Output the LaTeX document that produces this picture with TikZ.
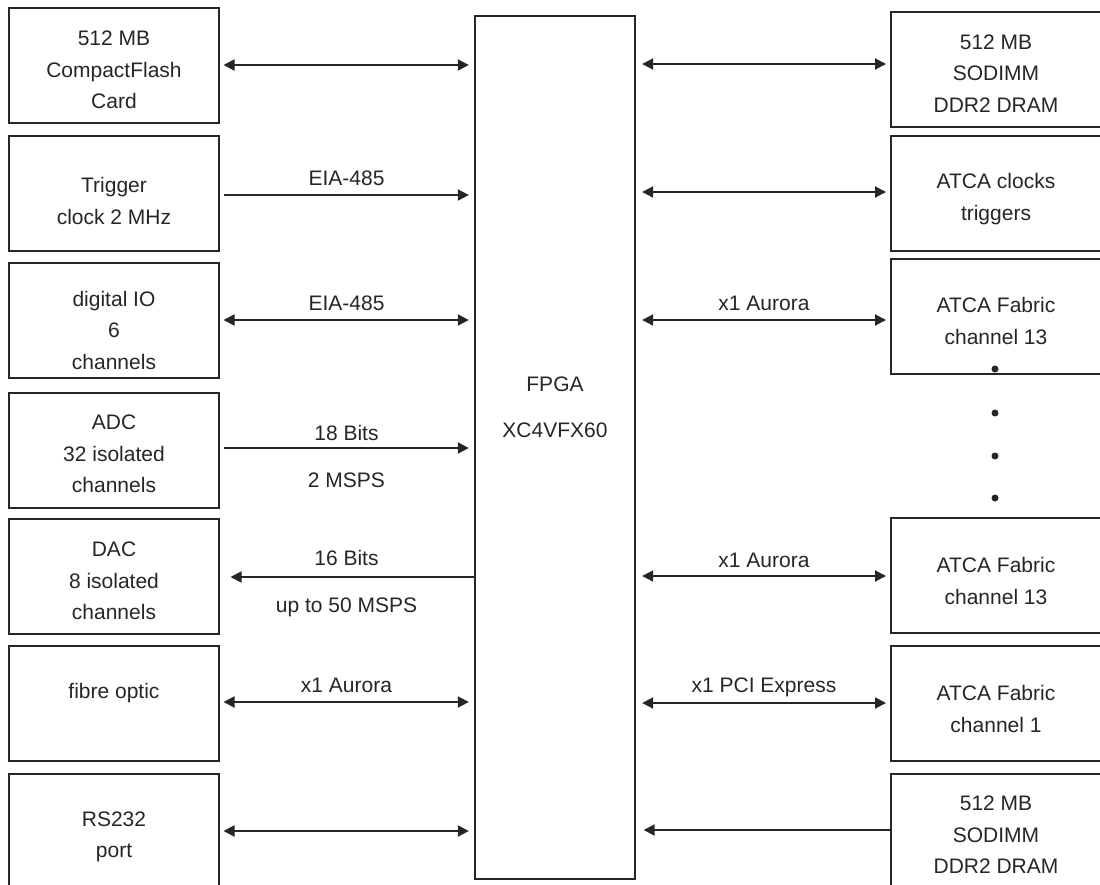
\documentclass[tikz,border=0pt]{standalone}
\usepackage{fontspec}
\setmainfont{Liberation Sans}
\usetikzlibrary{arrows.meta}
\begin{document}
\begin{tikzpicture}[x=1pt,y=-1pt,
  box/.style={draw=black!85,line width=2pt,minimum width=210pt,minimum height=115pt,inner sep=0pt},
  txt/.style={align=center,font=\fontsize{21}{31.5}\selectfont,text=black!85,inner sep=0pt},
  lab/.style={font=\fontsize{21}{24}\selectfont,text=black!85,inner sep=0pt},
  conn/.style={line width=1.9pt,draw=black!85},
  tip/.style={-{Triangle[length=11pt,width=11pt]}},
  both/.style={{Triangle[length=11pt,width=11pt]}-{Triangle[length=11pt,width=11pt]}},
  dot/.style={circle,fill=black!85,inner sep=0pt,minimum size=7pt}]
\useasboundingbox (0,0) rectangle (1100,884);
\fill[white] (0,0) rectangle (1100,884);
% FPGA
\node[draw=black!85,line width=2.3pt,minimum width=160pt,minimum height=863pt,inner sep=0pt] (fpga) at (555,447.5) {};
\node[txt] (fpgat) at (555,384) {FPGA};
\node[txt] (fpgat2) at (555,430) {XC4VFX60};
% left boxes
\node[box] (l1) at (114,65.5) {};
\node[box] (l2) at (114,193) {};
\node[box] (l3) at (114,320.5) {};
\node[box] (l4) at (114,450) {};
\node[box] (l5) at (114,576.5) {};
\node[box] (l6) at (114,703.5) {};
\node[box] (l7) at (114,831.5) {};
\node[txt] (l1t) at (114,70) {512 MB\\CompactFlash\\Card};
\node[txt] (l2t) at (114,201) {Trigger\\clock 2 MHz};
\node[txt] (l3t) at (114,330) {digital IO\\6\\channels};
\node[txt] (l4t) at (114,454) {ADC\\32 isolated\\channels};
\node[txt] (l5t) at (114,581) {DAC\\8 isolated\\channels};
\node[txt] (l6t) at (114,693) {fibre optic};
\node[txt] (l7t) at (114,837) {RS232\\port};
% right boxes
\node[box] (r1) at (996,69) {};
\node[box] (r2) at (996,193.5) {};
\node[box] (r3) at (996,316.5) {};
\node[box] (r4) at (996,575.5) {};
\node[box] (r5) at (996,703) {};
\node[box] (r6) at (996,831.5) {};
\node[txt] (r1t) at (996,73.5) {512 MB\\SODIMM\\DDR2 DRAM};
\node[txt] (r2t) at (996,199) {ATCA clocks\\triggers};
\node[txt] (r3t) at (996,321) {ATCA Fabric\\channel 13};
\node[txt] (r4t) at (996,581) {ATCA Fabric\\channel 13};
\node[txt] (r5t) at (996,709) {ATCA Fabric\\channel 1};
\node[txt] (r6t) at (996,835) {512 MB\\SODIMM\\DDR2 DRAM};
% dots
\node[dot] (d1) at (995,369) {};
\node[dot] (d2) at (995,413) {};
\node[dot] (d3) at (995,456) {};
\node[dot] (d4) at (995,498) {};
% left connectors
\draw[conn,both,shorten <=3.5pt,shorten >=5pt] ([yshift=0.5pt]l1.east) -- ([yshift=0.5pt]l1.east -| fpga.west);
\draw[conn,tip,shorten <=3.5pt,shorten >=5pt] ([yshift=-2pt]l2.east) -- ([yshift=-2pt]l2.east -| fpga.west);
\draw[conn,both,shorten <=3.5pt,shorten >=5pt] ([yshift=0.5pt]l3.east) -- ([yshift=0.5pt]l3.east -| fpga.west);
\draw[conn,tip,shorten <=3.5pt,shorten >=5pt] ([yshift=2pt]l4.east) -- ([yshift=2pt]l4.east -| fpga.west);
\draw[conn,tip,shorten >=10.5pt] ([yshift=-0.5pt]l5.east -| fpga.west) -- ([yshift=-0.5pt]l5.east);
\draw[conn,both,shorten <=3.5pt,shorten >=5pt] ([yshift=1.5pt]l6.east) -- ([yshift=1.5pt]l6.east -| fpga.west);
\draw[conn,both,shorten <=3.5pt,shorten >=5pt] ([yshift=0.5pt]l7.east) -- ([yshift=0.5pt]l7.east -| fpga.west);
% right connectors
\draw[conn,both,shorten <=6pt,shorten >=4pt] ([yshift=5pt]r1.west -| fpga.east) -- ([yshift=5pt]r1.west);
\draw[conn,both,shorten <=6pt,shorten >=4pt] ([yshift=1.5pt]r2.west -| fpga.east) -- ([yshift=1.5pt]r2.west);
\draw[conn,both,shorten <=6pt,shorten >=4pt] ([yshift=-3.5pt]r3.west -| fpga.east) -- ([yshift=-3.5pt]r3.west);
\draw[conn,both,shorten <=6pt,shorten >=4pt] ([yshift=-0.5pt]r4.west -| fpga.east) -- ([yshift=-0.5pt]r4.west);
\draw[conn,both,shorten <=6pt,shorten >=4pt] (r5.west -| fpga.east) -- (r5.west);
\draw[conn,tip,shorten >=7.5pt] ([yshift=1.5pt]r6.west) -- ([yshift=1.5pt]r6.west -| fpga.east);
% labels
\node[lab] (a2) at (346.5,178) {EIA-485};
\node[lab] (a3) at (346.5,303) {EIA-485};
\node[lab] (a4) at (346.5,433) {18 Bits};
\node[lab] (a4b) at (346.5,480) {2 MSPS};
\node[lab] (a5) at (346.5,558) {16 Bits};
\node[lab] (a5b) at (346.5,607) {up to 50 MSPS};
\node[lab] (a6) at (346.5,685) {x1 Aurora};
\node[lab] (b3) at (764,303) {x1 Aurora};
\node[lab] (b4) at (764,560) {x1 Aurora};
\node[lab] (b5) at (764,687) {x1 PCI Express};
\end{tikzpicture}
\end{document}
